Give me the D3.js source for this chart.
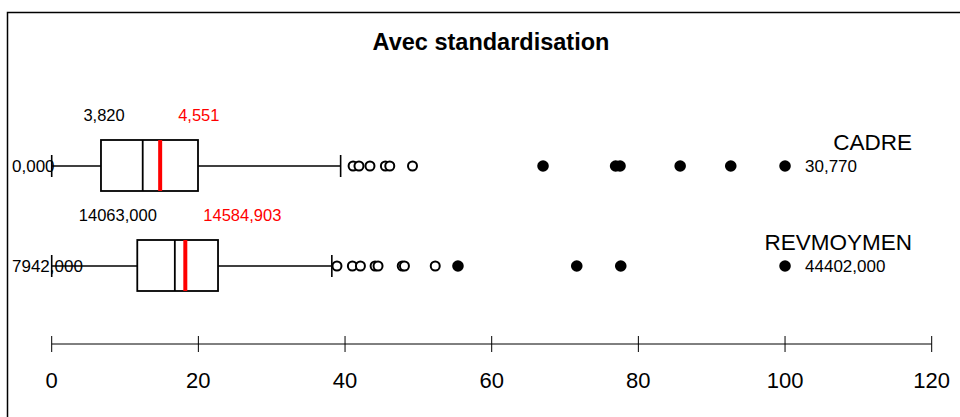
<!DOCTYPE html>
<html>
<head>
<meta charset="utf-8">
<script src="https://cdn.jsdelivr.net/npm/d3@7"></script>
<style>
  body { margin: 0; background: #fff; }
  text { font-family: "Liberation Sans", Arial, sans-serif; }
</style>
</head>
<body>
<script>
// variables
const variables = ["CADRE", "REVMOYMEN"];
// valeurs standardisees (0..100)
const lowWhisker = [0, 0];
const q1 = [6.72, 11.67];
const median = [12.41, 16.79];
const mean = [14.79, 18.22];
const q3 = [19.95, 22.68];
const highWhisker = [39.4, 38.2];
// valeurs originales affichees
const minLabels = ["0,000", "7942,000"];
const medianLabels = ["3,820", "14063,000"];
const meanLabels = ["4,551", "14584,903"];
const maxLabels = ["30,770", "44402,000"];
// points atypiques
const openOutliers = [
  [41.1, 41.9, 43.4, 45.5, 46.1, 49.2],
  [38.9, 41.0, 42.1, 44.1, 44.5, 47.8, 48.1, 52.3]
];
const filledOutliers = [
  [67.0, 76.9, 77.5, 85.7, 92.6, 100],
  [55.4, 71.6, 77.6, 100]
];
const xTicks = [0, 20, 40, 60, 80, 100, 120];

const W = 960, H = 417;

const svg = d3.select("body")
  .append("svg")
  .attr("width", W)
  .attr("height", H);

// cadre
svg.append("path")
  .attr("d", `M7.5,${H + 5}V12.5H${W + 5}`)
  .attr("fill", "none")
  .attr("stroke", "#000")
  .attr("stroke-width", 1.5);

svg.append("text")
  .attr("x", 491)
  .attr("y", 50)
  .attr("text-anchor", "middle")
  .attr("font-size", 23.5)
  .attr("font-weight", "bold")
  .text("Avec standardisation");

const x = d3.scaleLinear().domain([0, 120]).range([51.7, 931.7]);
const y = d3.scaleBand().domain(variables).range([116, 316]);

// axe
const axis = svg.append("g").attr("transform", "translate(0,344)");
axis.append("line")
  .attr("x1", x(0)).attr("x2", x(120))
  .attr("stroke", "#000");
axis.selectAll("line.tick")
  .data(xTicks)
  .enter()
  .append("line")
  .attr("class", "tick")
  .attr("x1", (d) => x(d)).attr("x2", (d) => x(d))
  .attr("y1", -8).attr("y2", 8)
  .attr("stroke", "#000");
axis.selectAll("text")
  .data(xTicks)
  .enter()
  .append("text")
  .attr("x", (d) => x(d))
  .attr("y", 44)
  .attr("text-anchor", "middle")
  .attr("font-size", 22)
  .text((d) => d);

const rows = variables.map((v, i) => ({
  name: v, i: i,
  lo: lowWhisker[i], q1: q1[i], med: median[i], mean: mean[i], q3: q3[i], hi: highWhisker[i]
}));

const g = svg.selectAll("g.box")
  .data(rows)
  .enter()
  .append("g")
  .attr("class", "box")
  .attr("transform", (d) => `translate(0,${y(d.name) + y.bandwidth() / 2})`);

// moustaches
g.append("line")
  .attr("x1", (d) => x(d.lo)).attr("x2", (d) => x(d.q1))
  .attr("stroke", "#000").attr("stroke-width", 1.6);
g.append("line")
  .attr("x1", (d) => x(d.q3)).attr("x2", (d) => x(d.hi))
  .attr("stroke", "#000").attr("stroke-width", 1.6);
g.append("line")
  .attr("x1", (d) => x(d.lo)).attr("x2", (d) => x(d.lo))
  .attr("y1", -11).attr("y2", 11)
  .attr("stroke", "#000").attr("stroke-width", 1.6);
g.append("line")
  .attr("x1", (d) => x(d.hi)).attr("x2", (d) => x(d.hi))
  .attr("y1", -11).attr("y2", 11)
  .attr("stroke", "#000").attr("stroke-width", 1.6);

// boite
g.append("rect")
  .attr("x", (d) => x(d.q1))
  .attr("y", -26)
  .attr("width", (d) => x(d.q3) - x(d.q1))
  .attr("height", 51)
  .attr("fill", "#fff")
  .attr("stroke", "#000")
  .attr("stroke-width", 1.8);
g.append("line")
  .attr("x1", (d) => x(d.med)).attr("x2", (d) => x(d.med))
  .attr("y1", -26).attr("y2", 25)
  .attr("stroke", "#000").attr("stroke-width", 1.8);
g.append("line")
  .attr("x1", (d) => x(d.mean)).attr("x2", (d) => x(d.mean))
  .attr("y1", -26).attr("y2", 25)
  .attr("stroke", "red").attr("stroke-width", 4);

// points atypiques
g.selectAll("circle.open")
  .data((d) => openOutliers[d.i])
  .enter()
  .append("circle")
  .attr("class", "open")
  .attr("cx", (d) => x(d))
  .attr("r", 4.5)
  .attr("fill", "#fff")
  .attr("stroke", "#000")
  .attr("stroke-width", 2);
g.selectAll("circle.filled")
  .data((d) => filledOutliers[d.i])
  .enter()
  .append("circle")
  .attr("class", "filled")
  .attr("cx", (d) => x(d))
  .attr("r", 5.8)
  .attr("fill", "#000");

// etiquettes
g.append("text")
  .attr("x", 12).attr("y", 6)
  .attr("font-size", 17)
  .text((d) => minLabels[d.i]);
g.append("text")
  .attr("x", (d) => x(d.med) - 18).attr("y", -45)
  .attr("text-anchor", "end")
  .attr("font-size", 16.5)
  .text((d) => medianLabels[d.i]);
g.append("text")
  .attr("x", (d) => x(d.mean) + 18).attr("y", -45)
  .attr("font-size", 16.5)
  .attr("fill", "red")
  .text((d) => meanLabels[d.i]);
g.append("text")
  .attr("x", x(100) + 20).attr("y", 6)
  .attr("font-size", 17)
  .text((d) => maxLabels[d.i]);
g.append("text")
  .attr("x", 912).attr("y", -16)
  .attr("text-anchor", "end")
  .attr("font-size", 22.5)
  .text((d) => d.name);
</script>
</body>
</html>
